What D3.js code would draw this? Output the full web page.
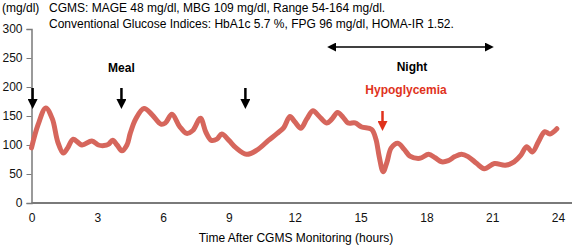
<!DOCTYPE html>
<html>
<head>
<meta charset="utf-8">
<script src="https://cdn.jsdelivr.net/npm/d3@7"></script>
<style>
  body { margin: 0; background: #fff; }
  text { font-family: "Liberation Sans", Arial, sans-serif; }
</style>
</head>
<body>
<div class="chart_area"></div>
<script>
// glucose trace (hours after start of CGMS, mg/dl)
var hours = [0.0, 0.3, 0.65, 0.95, 1.2, 1.45, 1.65, 1.9, 2.3, 2.75, 3.05, 3.3, 3.5, 3.7, 3.9, 4.12, 4.35, 4.5, 4.75,
  5.13, 5.5, 5.9, 6.1, 6.4, 6.75, 7.07, 7.35, 7.7, 7.95, 8.2, 8.45, 8.67, 9.0, 9.3, 9.8, 10.27, 10.8, 11.2, 11.5,
  11.78, 12.0, 12.28, 12.55, 12.83, 13.1, 13.45, 13.7, 13.95, 14.2, 14.43, 14.75, 15.05, 15.5, 15.7, 15.85, 16.03,
  16.2, 16.4, 16.7, 17.0, 17.25, 17.7, 18.1, 18.4, 18.7, 19.0, 19.3, 19.6, 19.9, 20.3, 20.64, 21.1, 21.6, 22.0,
  22.3, 22.57, 22.83, 23.1, 23.4, 23.63, 23.95];
var glucose = [95, 135, 164, 145, 105, 86, 95, 110, 100, 107, 100, 99, 101, 108, 100, 90, 100, 120, 145,
  163, 152, 136, 138, 153, 132, 120, 125, 146, 122, 108, 110, 119, 108, 96, 84, 91, 108, 120, 130,
  149, 140, 129, 145, 159, 150, 138, 145, 156, 148, 138, 138, 131, 127, 110, 80, 54,
  70, 95, 103, 92, 81, 77, 84, 78, 71, 73, 80, 84, 80, 68, 59, 68, 65, 71,
  82, 97, 88, 105, 123, 119, 128];

var xTicks = [0, 3, 6, 9, 12, 15, 18, 21, 24];
var yTicks = [0, 50, 100, 150, 200, 250, 300];

var mealHours = [0.05, 4.1, 9.75];
var hypoHour = 16.0;
var nightRange = [13.5, 21.05];

var headerLines = [
  "CGMS: MAGE 48 mg/dl, MBG 109 mg/dl, Range 54-164 mg/dl.",
  "Conventional Glucose Indices: HbA1c 5.7 %, FPG 96 mg/dl, HOMA-IR 1.52."
];

var width = 572, height = 245;
var axisColor = "#7a7a7a";

var svg = d3.select(".chart_area")
  .append("svg")
  .attr("width", width)
  .attr("height", height);

var x = d3.scaleLinear().domain([0, 24]).range([31.5, 558]);
var y = d3.scaleLinear().domain([0, 300]).range([203, 29]);

// header
svg.append("text").attr("x", 2).attr("y", 12).style("font-size", "12px").text("(mg/dl)");
svg.selectAll(".hdr")
  .data(headerLines)
  .enter()
  .append("text")
  .attr("class", "hdr")
  .attr("x", 49)
  .attr("y", function(d, i) { return 12 + i * 16; })
  .style("font-size", "12px")
  .text(function(d) { return d; });

// y axis
var yAxis = svg.append("g")
  .attr("transform", "translate(" + x(0) + ",0)")
  .call(d3.axisLeft(y).tickValues(yTicks).tickSize(5).tickPadding(4));
yAxis.select(".domain").style("stroke", axisColor).style("stroke-width", 1.5);
yAxis.selectAll("line").style("stroke", axisColor);
yAxis.selectAll("text").style("font-size", "12px").style("fill", "#111");

// x axis
var xAxis = svg.append("g")
  .attr("transform", "translate(0," + y(0) + ")")
  .call(d3.axisBottom(x).tickValues(xTicks).tickSize(0).tickPadding(10));
xAxis.select(".domain").remove();
xAxis.append("line")
  .attr("x1", x(0)).attr("x2", width)
  .style("stroke", axisColor).style("stroke-width", 2);
xAxis.selectAll("text").style("font-size", "12px").style("fill", "#111");

svg.append("text")
  .attr("x", 296).attr("y", 242)
  .attr("text-anchor", "middle")
  .style("font-size", "12px")
  .text("Time After CGMS Monitoring (hours)");

// arrow heads
var defs = svg.append("defs");
function marker(id, color) {
  defs.append("marker")
    .attr("id", id)
    .attr("viewBox", "0 0 10 10")
    .attr("refX", 5).attr("refY", 5)
    .attr("markerWidth", 4).attr("markerHeight", 4)
    .attr("orient", "auto-start-reverse")
    .append("path")
    .attr("d", "M0,0L10,5L0,10Z")
    .attr("fill", color);
}
marker("blk", "#000");
marker("red", "#e0321c");
marker("blk2", "#000");
defs.select("#blk2").attr("markerWidth", 6).attr("markerHeight", 6);

// glucose line
var pts = hours.map(function(h, i) { return [h, glucose[i]]; });
svg.append("path")
  .datum(pts)
  .attr("d", d3.line()
    .x(function(d) { return x(d[0]); })
    .y(function(d) { return y(d[1]); })
    .curve(d3.curveCatmullRom))
  .style("fill", "none")
  .style("stroke", "#d6665c")
  .style("stroke-width", 5)
  .style("stroke-linecap", "round")
  .style("stroke-linejoin", "round");

// meal arrows
svg.selectAll(".meal")
  .data(mealHours)
  .enter()
  .append("line")
  .attr("x1", function(d) { return x(d); })
  .attr("x2", function(d) { return x(d); })
  .attr("y1", 88).attr("y2", 104)
  .style("stroke", "#000").style("stroke-width", 2.5)
  .attr("marker-end", "url(#blk)");

svg.append("text")
  .attr("x", x(4.1)).attr("y", 72)
  .attr("text-anchor", "middle")
  .style("font-size", "12px").style("font-weight", "bold")
  .text("Meal");

// night
svg.append("line")
  .attr("x1", x(nightRange[0]) + 4).attr("x2", x(nightRange[1]) - 4)
  .attr("y1", 47).attr("y2", 47)
  .style("stroke", "#000").style("stroke-width", 1.5)
  .attr("marker-start", "url(#blk2)")
  .attr("marker-end", "url(#blk2)");
svg.append("text")
  .attr("x", 412).attr("y", 71)
  .attr("text-anchor", "middle")
  .style("font-size", "12px").style("font-weight", "bold")
  .text("Night");

// hypoglycemia
svg.append("line")
  .attr("x1", x(hypoHour)).attr("x2", x(hypoHour))
  .attr("y1", 111).attr("y2", 126)
  .style("stroke", "#e0321c").style("stroke-width", 2.5)
  .attr("marker-end", "url(#red)");
svg.append("text")
  .attr("x", 406).attr("y", 94)
  .attr("text-anchor", "middle")
  .style("font-size", "12px").style("font-weight", "bold")
  .style("fill", "#e0321c")
  .text("Hypoglycemia");
</script>
</body>
</html>
